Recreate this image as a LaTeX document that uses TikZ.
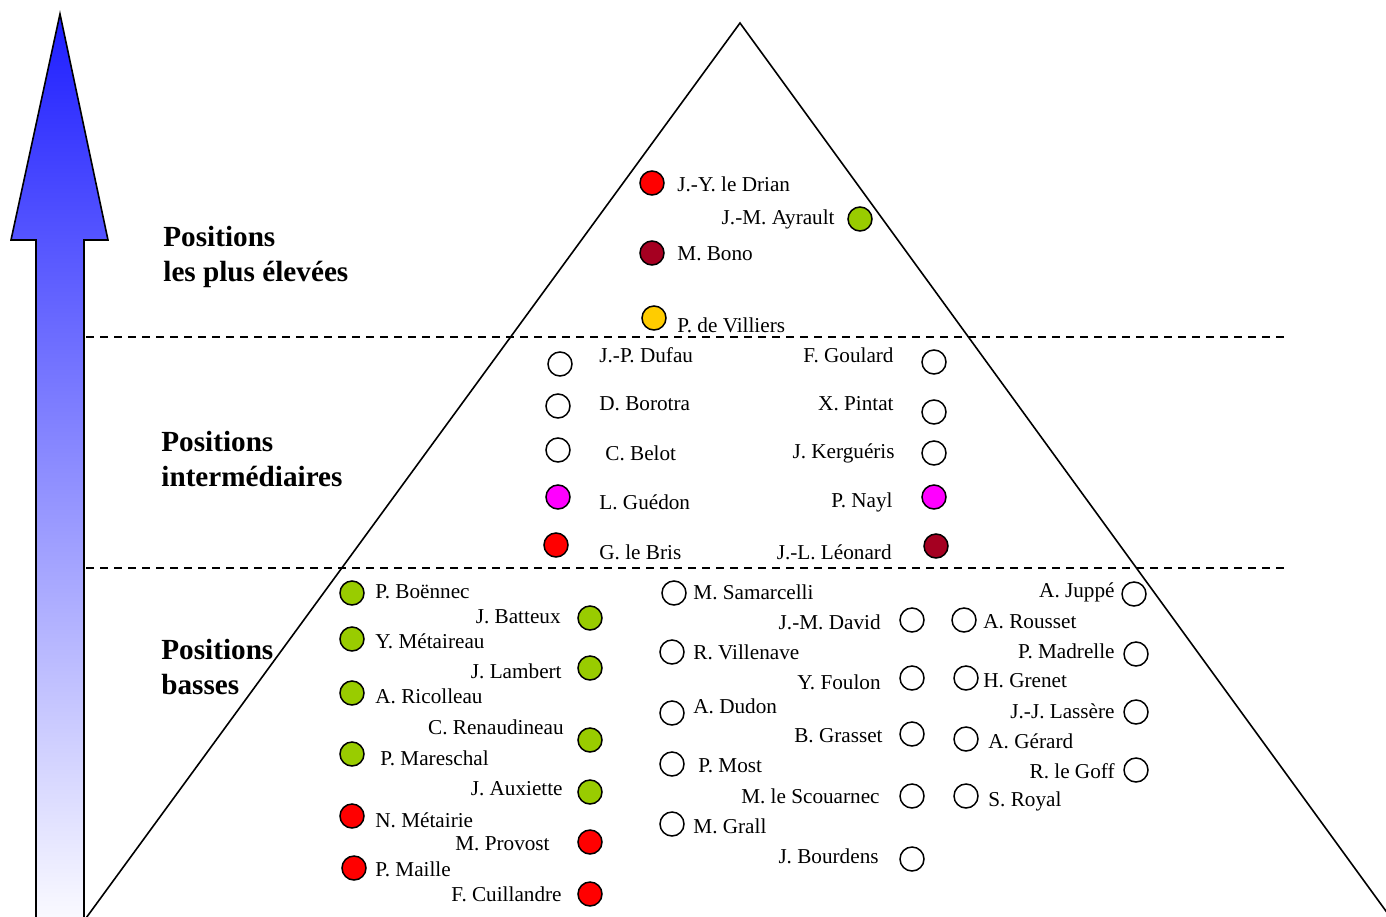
\documentclass[tikz,border=0pt]{standalone}
\usepackage{fontspec}
\setmainfont{Liberation Serif}
\usetikzlibrary{positioning}
\definecolor{ps}{RGB}{255,0,0}
\definecolor{ump}{RGB}{153,204,0}
\definecolor{udf}{RGB}{165,0,33}
\definecolor{mpf}{RGB}{255,204,0}
\definecolor{div}{RGB}{255,0,255}
\definecolor{arrowtop}{RGB}{30,30,255}
\tikzset{
dot/.style={draw,circle,line width=.75pt,minimum size=12pt,inner sep=0pt},
nl/.style={anchor=west,inner sep=0pt,font=\fontsize{10.6}{12}\selectfont},
nr/.style={anchor=east,inner sep=0pt,font=\fontsize{10.6}{12}\selectfont},
level/.style={anchor=west,inner sep=0pt,align=left,font=\fontsize{14.6}{17.5}\selectfont\bfseries},
sep/.style={dash pattern=on 4pt off 3pt,line width=.7pt}
}
\begin{document}
\begin{tikzpicture}[x=0.5pt,y=-0.5pt]
\useasboundingbox (0,0) rectangle (1386,916);
% arrow and pyramid
\path[draw,line width=.8pt,top color=arrowtop,bottom color=white]
  (60,14) -- (108,240) -- (84,240) -- (84,940) -- (36,940) -- (36,240) -- (11,240) -- cycle;
\draw[line width=.8pt] (70,940) coordinate (bl) -- (740,23) coordinate (apex) -- (1407,940) coordinate (br);
\coordinate (s1a) at (86,337); \coordinate (s1b) at (1286,337);
\coordinate (s2a) at (86,568); \coordinate (s2b) at (1286,568);
\draw[sep] (s1a) -- (s1b);
\draw[sep] (s2a) -- (s2b);
% levels
\node[level] (top) at (163,257) {Positions\\les plus élevées};
\node[level] (mid) at (161,459) {Positions\\intermédiaires};
\node[level] (low) at (161,667) {Positions\\basses};
% positions les plus elevees
\node[dot,fill=ps] (drian) at (652,183) {};
\node[nl] (ndrian) at (677,184) {J.-Y. le Drian};
\node[dot,fill=ump] (ayrault) at (860,219) {};
\node[nr] (nayrault) at (835,219) {J.-M. Ayrault};
\node[dot,fill=udf] (bono) at (652,253) {};
\node[nl] (nbono) at (677,254) {M. Bono};
\node[dot,fill=mpf] (villiers) at (654,318) {};
\node[nl] (nvilliers) at (677,325) {P. de Villiers};
% positions intermediaires
\node[dot] (dufau) at (560,364) {};
\node[nl] (ndufau) at (599,355) {J.-P. Dufau};
\node[dot] (borotra) at (558,406) {};
\node[nl] (nborotra) at (599,404) {D. Borotra};
\node[dot] (belot) at (558,450) {};
\node[nl] (nbelot) at (605,453) {C. Belot};
\node[dot,fill=div] (guedon) at (558,497) {};
\node[nl] (nguedon) at (599,502) {L. Guédon};
\node[dot,fill=ps] (bris) at (556,545) {};
\node[nl] (nbris) at (599,552) {G. le Bris};
\node[dot] (goulard) at (934,362) {};
\node[nr] (ngoulard) at (894,355) {F. Goulard};
\node[dot] (pintat) at (934,412) {};
\node[nr] (npintat) at (894,404) {X. Pintat};
\node[dot] (kergueris) at (934,453) {};
\node[nr] (nkergueris) at (895,453) {J. Kerguéris};
\node[dot,fill=div] (nayl) at (934,497) {};
\node[nr] (nnayl) at (893,502) {P. Nayl};
\node[dot,fill=udf] (leonard) at (936,546) {};
\node[nr] (nleonard) at (892,552) {J.-L. Léonard};
% positions basses
\node[dot,fill=ump] (boennec) at (352,593) {};
\node[nl] (nboennec) at (375,592) {P. Boënnec};
\node[dot,fill=ump] (batteux) at (590,618) {};
\node[nr] (nbatteux) at (561,617) {J. Batteux};
\node[dot,fill=ump] (metaireau) at (352,639) {};
\node[nl] (nmetaireau) at (375,641) {Y. Métaireau};
\node[dot,fill=ump] (lambert) at (590,668) {};
\node[nr] (nlambert) at (562,671) {J. Lambert};
\node[dot,fill=ump] (ricolleau) at (352,693) {};
\node[nl] (nricolleau) at (375,696) {A. Ricolleau};
\node[dot,fill=ump] (renaudineau) at (590,740) {};
\node[nr] (nrenaudineau) at (564,727) {C. Renaudineau};
\node[dot,fill=ump] (mareschal) at (352,754) {};
\node[nl] (nmareschal) at (380,758) {P. Mareschal};
\node[dot,fill=ump] (auxiette) at (590,792) {};
\node[nr] (nauxiette) at (563,789) {J. Auxiette};
\node[dot,fill=ps] (metairie) at (352,816) {};
\node[nl] (nmetairie) at (375,820) {N. Métairie};
\node[dot,fill=ps] (provost) at (590,842) {};
\node[nr] (nprovost) at (550,844) {M. Provost};
\node[dot,fill=ps] (maille) at (354,868) {};
\node[nl] (nmaille) at (375,869) {P. Maille};
\node[dot,fill=ps] (cuillandre) at (590,894) {};
\node[nr] (ncuillandre) at (562,894) {F. Cuillandre};
\node[dot] (samarcelli) at (674,593) {};
\node[nl] (nsamarcelli) at (693,592) {M. Samarcelli};
\node[dot] (david) at (912,620) {};
\node[nr] (ndavid) at (881,622) {J.-M. David};
\node[dot] (villenave) at (672,652) {};
\node[nl] (nvillenave) at (693,652) {R. Villenave};
\node[dot] (foulon) at (912,678) {};
\node[nr] (nfoulon) at (881,682) {Y. Foulon};
\node[dot] (dudon) at (672,713) {};
\node[nl] (ndudon) at (693,706) {A. Dudon};
\node[dot] (grasset) at (912,734) {};
\node[nr] (ngrasset) at (883,736) {B. Grasset};
\node[dot] (most) at (672,764) {};
\node[nl] (nmost) at (698,766) {P. Most};
\node[dot] (scouarnec) at (912,796) {};
\node[nr] (nscouarnec) at (880,796) {M. le Scouarnec};
\node[dot] (grall) at (672,824) {};
\node[nl] (ngrall) at (693,826) {M. Grall};
\node[dot] (bourdens) at (912,859) {};
\node[nr] (nbourdens) at (879,856) {J. Bourdens};
\node[dot] (juppe) at (1134,594) {};
\node[nr] (njuppe) at (1115,592) {A. Juppé};
\node[dot] (rousset) at (964,620) {};
\node[nl] (nrousset) at (983,622) {A. Rousset};
\node[dot] (madrelle) at (1136,654) {};
\node[nr] (nmadrelle) at (1115,651) {P. Madrelle};
\node[dot] (grenet) at (966,678) {};
\node[nl] (ngrenet) at (983,681) {H. Grenet};
\node[dot] (lassere) at (1136,712) {};
\node[nr] (nlassere) at (1115,711) {J.-J. Lassère};
\node[dot] (gerard) at (966,739) {};
\node[nl] (ngerard) at (988,741) {A. Gérard};
\node[dot] (goff) at (1136,770) {};
\node[nr] (ngoff) at (1115,771) {R. le Goff};
\node[dot] (royal) at (966,796) {};
\node[nl] (nroyal) at (988,801) {S. Royal};
\end{tikzpicture}
\end{document}
